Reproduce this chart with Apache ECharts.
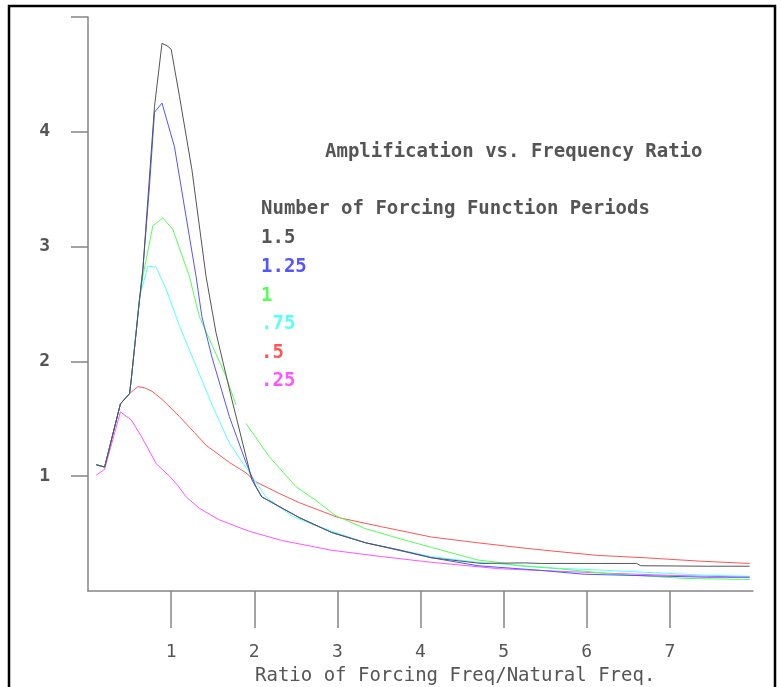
<!DOCTYPE html>
<html>
<head>
<meta charset="utf-8">
<script src="https://cdn.jsdelivr.net/npm/echarts@6/dist/echarts.min.js"></script>
<style>
  html, body { margin: 0; padding: 0; background: #fff; }
  #chart { width: 781px; height: 687px; }
</style>
</head>
<body>
<div id="chart"></div>
<script>
// tick positions / labels
const xTicks = [1, 2, 3, 4, 5, 6, 7]
const yTicks = [1, 2, 3, 4, 5]
const yLabels = [1, 2, 3, 4]

// legend names (number of forcing function periods)
const periodNames = ['1.5', '1.25', '1', '.75', '.5', '.25']
const periodColors = ['#555555', '#5555ff', '#55ff55', '#55ffff', '#ff5555', '#ff55ff']

// amplification curves, [ratio, amplification]
const p150 = [[0.10, 1.10], [0.20, 1.08], [0.39, 1.63], [0.50, 1.72], [0.52, 1.84], [0.62, 2.54], [0.66, 2.80],
  [0.72, 3.41], [0.80, 4.22], [0.89, 4.77], [0.95, 4.75], [1.00, 4.72], [1.10, 4.31], [1.25, 3.67], [1.42, 2.74],
  [1.54, 2.25], [1.73, 1.67], [1.97, 0.97], [2.09, 0.82], [2.54, 0.64], [2.93, 0.51], [3.34, 0.42], [3.73, 0.36],
  [4.13, 0.29], [4.73, 0.24], [5.25, 0.245], [5.44, 0.24], [6.60, 0.24], [6.65, 0.22], [7.44, 0.216], [7.96, 0.216]]
const p125 = [[0.10, 1.10], [0.20, 1.08], [0.39, 1.63], [0.50, 1.72], [0.52, 1.84], [0.62, 2.54], [0.66, 2.80],
  [0.74, 3.53], [0.80, 4.17], [0.89, 4.25], [1.04, 3.87], [1.18, 3.26], [1.30, 2.74], [1.37, 2.39], [1.49, 2.04],
  [1.70, 1.52], [1.90, 1.12], [2.02, 0.91], [2.09, 0.82], [2.54, 0.64], [2.93, 0.51], [3.34, 0.42], [4.13, 0.29],
  [4.69, 0.22], [5.44, 0.18], [5.97, 0.146], [7.44, 0.12], [7.96, 0.12]]
const p100 = [[0.10, 1.10], [0.20, 1.08], [0.39, 1.63], [0.50, 1.72], [0.52, 1.84], [0.62, 2.54], [0.66, 2.74],
  [0.78, 3.18], [0.90, 3.25], [1.02, 3.15], [1.22, 2.74], [1.34, 2.39], [1.50, 2.13], [1.66, 1.87], [1.78, 1.62],
  [1.84, '-'],
  [1.90, 1.46], [2.18, 1.17], [2.50, 0.91], [2.74, 0.79], [2.97, 0.66], [3.33, 0.545], [3.73, 0.46], [4.13, 0.38],
  [4.69, 0.27], [4.93, 0.25], [5.17, 0.22], [5.65, 0.195], [6.28, 0.15], [7.17, 0.11], [7.96, 0.10]]
const p075 = [[0.10, 1.10], [0.20, 1.08], [0.39, 1.63], [0.50, 1.72], [0.52, 1.84], [0.62, 2.56], [0.72, 2.83],
  [0.82, 2.82], [0.94, 2.63], [1.10, 2.31], [1.30, 1.96], [1.50, 1.61], [1.70, 1.29], [1.97, 1.00], [2.14, 0.82],
  [2.46, 0.65], [2.74, 0.57], [3.34, 0.42], [4.13, 0.30], [4.69, 0.25], [5.61, 0.20], [6.37, 0.175], [7.44, 0.137],
  [7.96, 0.128]]
const p050 = [[0.10, 1.10], [0.20, 1.08], [0.39, 1.63], [0.50, 1.72], [0.60, 1.78], [0.68, 1.77], [0.77, 1.74],
  [0.89, 1.67], [1.10, 1.52], [1.28, 1.38], [1.42, 1.27], [1.70, 1.12], [1.90, 1.03], [2.02, 0.95], [2.30, 0.85],
  [2.54, 0.77], [3.01, 0.64], [3.53, 0.56], [4.13, 0.47], [4.69, 0.42], [5.17, 0.38], [5.56, 0.35], [6.13, 0.31],
  [6.69, 0.29], [7.36, 0.26], [7.96, 0.24]]
const p025 = [[0.10, 1.01], [0.20, 1.06], [0.39, 1.56], [0.52, 1.49], [0.64, 1.35], [0.82, 1.11], [0.98, 1.00],
  [1.08, 0.92], [1.18, 0.82], [1.34, 0.72], [1.58, 0.62], [1.94, 0.52], [2.33, 0.44], [2.93, 0.355], [3.53, 0.30],
  [4.13, 0.25], [4.93, 0.195], [5.17, 0.187], [6.25, 0.155], [6.97, 0.137], [7.96, 0.12]]

const curves = [p150, p125, p100, p075, p050, p025]

const font = 'DejaVu Sans Mono'
const chart = echarts.init(document.getElementById('chart'))

// black curve drawn last so it sits on top
let series = []
for (let i = curves.length - 1; i >= 0; i--) {
  series.push({
    name: periodNames[i],
    type: 'line',
    data: curves[i],
    showSymbol: false,
    connectNulls: false,
    lineStyle: { color: periodColors[i], width: 1 },
    itemStyle: { color: periodColors[i] }
  })
}

const option = {
  animation: false,
  backgroundColor: '#fff',
  title: [
    {
      text: 'Amplification vs. Frequency Ratio',
      left: 320, top: 138,
      textStyle: { fontFamily: font, fontSize: 19, fontWeight: 'bold', color: '#555' }
    },
    {
      text: 'Number of Forcing Function Periods',
      left: 256, top: 195,
      textStyle: { fontFamily: font, fontSize: 19, fontWeight: 'bold', color: '#555' }
    },
    {
      text: 'Ratio of Forcing Freq/Natural Freq.',
      left: 250, top: 662,
      textStyle: { fontFamily: font, fontSize: 19, fontWeight: 'normal', color: '#555' }
    }
  ],
  legend: {
    orient: 'vertical',
    left: 256, top: 229,
    padding: 0,
    icon: 'none',
    itemWidth: 0, itemHeight: 19,
    itemGap: 9.6,
    selectedMode: false,
    textStyle: { fontFamily: font, fontSize: 19, fontWeight: 'bold' },
    data: periodNames.map((n, i) => ({ name: n, textStyle: { color: periodColors[i] } }))
  },
  graphic: [
    {
      type: 'rect',
      shape: { x: 9, y: 6, width: 766, height: 720 },
      style: { fill: null, stroke: '#000', lineWidth: 2.5 },
      silent: true
    }
  ],
  grid: { left: 88, top: 17, right: 28, bottom: 96 },
  xAxis: {
    type: 'value', min: 0, max: 8, interval: 1,
    splitLine: { show: false },
    axisLine: { lineStyle: { color: '#858585', width: 1.5 } },
    axisTick: { customValues: xTicks, length: 37, lineStyle: { color: '#858585', width: 1.5 } },
    axisLabel: {
      customValues: xTicks, margin: 52,
      fontFamily: font, fontSize: 18, color: '#555'
    }
  },
  yAxis: {
    type: 'value', min: 0, max: 5, interval: 1,
    splitLine: { show: false },
    axisLine: { show: true, lineStyle: { color: '#858585', width: 1.5 } },
    axisTick: { show: true, customValues: yTicks, length: 17, lineStyle: { color: '#858585', width: 1.5 } },
    axisLabel: {
      customValues: yLabels, margin: 38,
      fontFamily: font, fontSize: 18, fontWeight: 'bold', color: '#555'
    }
  },
  series: series
}

chart.setOption(option)
</script>
</body>
</html>
